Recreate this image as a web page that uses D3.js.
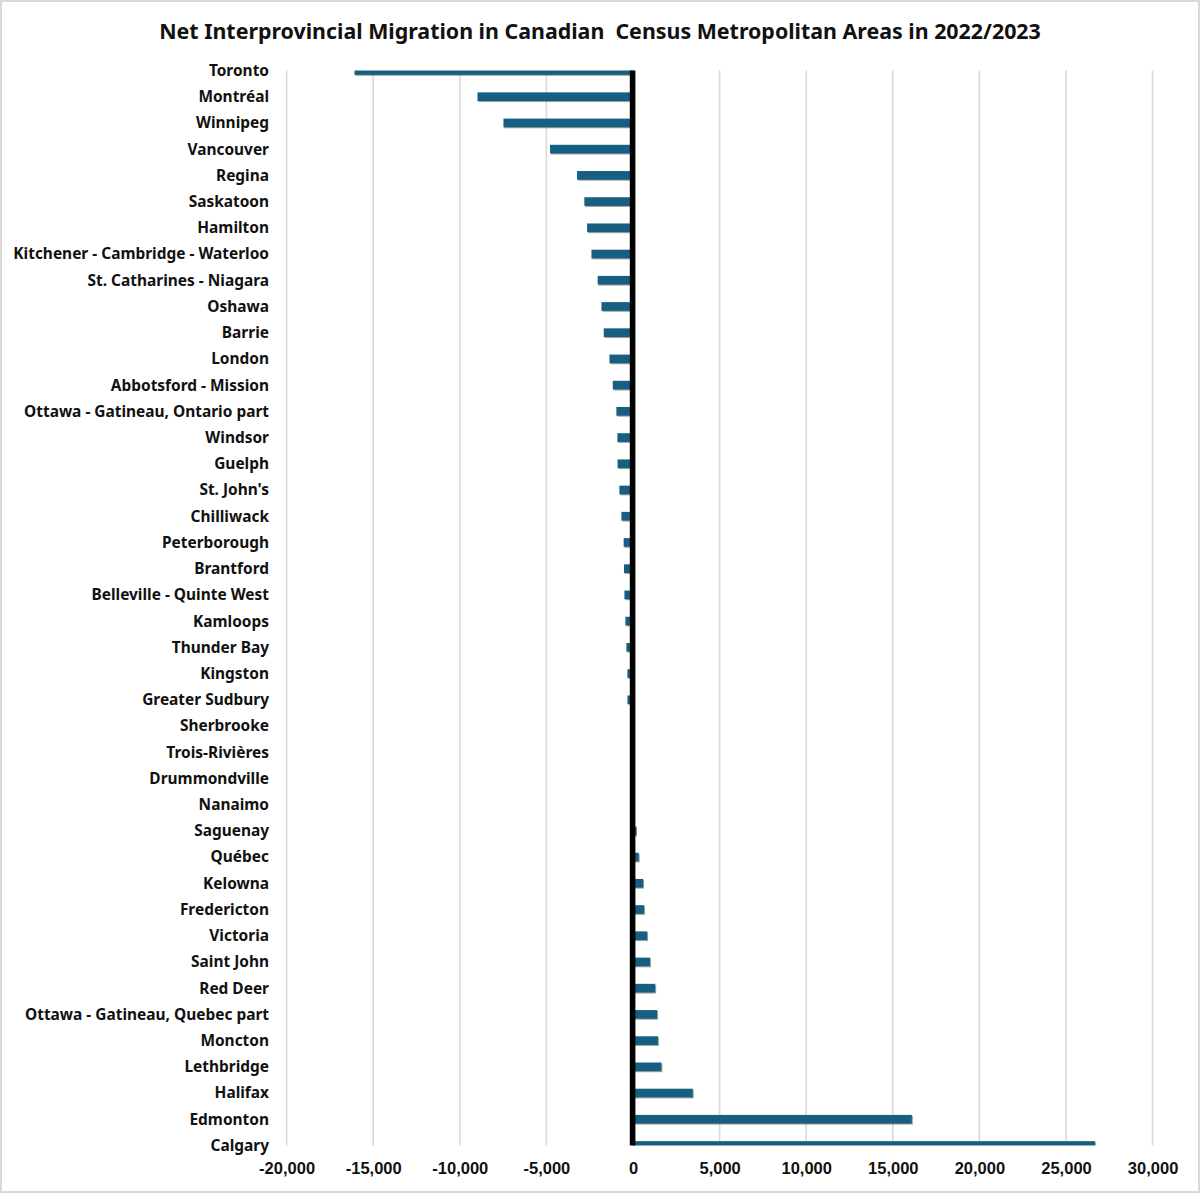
<!DOCTYPE html>
<html>
<head>
<meta charset="utf-8">
<script src="https://cdn.jsdelivr.net/npm/d3@7"></script>
<style>
  body { margin: 0; background: #fff; }
  svg { display: block; }
</style>
</head>
<body>
<div id="chart"></div>
<script>
var cmaNames = [
  "Toronto", "Montréal", "Winnipeg", "Vancouver", "Regina", "Saskatoon", "Hamilton",
  "Kitchener - Cambridge - Waterloo", "St. Catharines - Niagara", "Oshawa", "Barrie",
  "London", "Abbotsford - Mission", "Ottawa - Gatineau, Ontario part", "Windsor",
  "Guelph", "St. John's", "Chilliwack", "Peterborough", "Brantford",
  "Belleville - Quinte West", "Kamloops", "Thunder Bay", "Kingston", "Greater Sudbury",
  "Sherbrooke", "Trois-Rivières", "Drummondville", "Nanaimo", "Saguenay", "Québec",
  "Kelowna", "Fredericton", "Victoria", "Saint John", "Red Deer",
  "Ottawa - Gatineau, Quebec part", "Moncton", "Lethbridge", "Halifax", "Edmonton", "Calgary"
]

var netMigration = [
  -16080, -8980, -7480, -4790, -3230, -2810, -2650,
  -2400, -2040, -1820, -1690,
  -1360, -1170, -960, -900,
  -890, -785, -670, -540, -520,
  -495, -440, -380, -325, -320,
  -90, -60, -25, 20, 200, 330,
  590, 640, 820, 980, 1280,
  1390, 1440, 1640, 3450, 16100, 26670
]

var xTicks = [-20000, -15000, -10000, -5000, 0, 5000, 10000, 15000, 20000, 25000, 30000]

var titleText = "Net Interprovincial Migration in Canadian\u00a0 Census Metropolitan Areas in 2022/2023"

var data = cmaNames.map((name, i) => ({ name: name, value: netMigration[i] }))

var width = 1200
var height = 1193
var barColor = '#185f82'
var gridColor = '#d9d9d9'
var labelFont = '"Noto Sans", Roboto, sans-serif'

var svg = d3.select("#chart")
  .append("svg")
  .attr("width", width)
  .attr("height", height)

var defs = svg.append("defs")
var shadow = defs.append("filter")
  .attr("id", "barShadow")
  .attr("x", "-5%").attr("y", "-30%")
  .attr("width", "110%").attr("height", "160%")
shadow.append("feDropShadow")
  .attr("dx", 1).attr("dy", 1)
  .attr("stdDeviation", 0.6)
  .attr("flood-color", "#555")
  .attr("flood-opacity", 0.55)

defs.append("clipPath").attr("id", "plotClip")
  .append("rect")
  .attr("x", 0).attr("y", 70.5)
  .attr("width", width).attr("height", 1075)

// outer frame
svg.append("rect")
  .attr("x", 1).attr("y", 1)
  .attr("width", width - 2).attr("height", height - 2)
  .attr("fill", "#fff")
  .attr("stroke", gridColor)
  .attr("stroke-width", 2)

var xScale = d3.scaleLinear()
  .domain([-20000, 30000])
  .range([286.6, 1152.6])

var yScale = d3.scalePoint()
  .domain(cmaNames)
  .range([70.5, 1145.5])

var barHeight = 8.7

// gridlines
svg.append("g")
  .selectAll("line")
  .data(xTicks)
  .join("line")
  .attr("x1", d => xScale(d)).attr("x2", d => xScale(d))
  .attr("y1", 70.5).attr("y2", 1145.5)
  .attr("stroke", gridColor)
  .attr("stroke-width", 1.6)

// bars
svg.append("g")
  .attr("clip-path", "url(#plotClip)")
  .selectAll("rect")
  .data(data)
  .join("rect")
  .attr("x", d => xScale(Math.min(0, d.value)))
  .attr("y", d => yScale(d.name) - barHeight / 2)
  .attr("width", d => Math.abs(xScale(d.value) - xScale(0)))
  .attr("height", barHeight)
  .attr("fill", barColor)
  .attr("filter", "url(#barShadow)")

// zero line
svg.append("line")
  .attr("x1", xScale(0) - 0.4).attr("x2", xScale(0) - 0.4)
  .attr("y1", 70.5).attr("y2", 1145.5)
  .attr("stroke", "#000")
  .attr("stroke-width", 5.6)

// category labels
var labels = svg.append("g")
  .selectAll("text")
  .data(cmaNames)
  .join("text")
  .attr("x", 269)
  .attr("y", d => yScale(d))
  .attr("dy", "0.35em")
  .attr("text-anchor", "end")
  .attr("font-family", labelFont)
  .attr("font-weight", "bold")
  .attr("font-size", 15)
  .attr("fill", "#111")
  .text(d => d)

// fit the longest label to the width it has in the original (x 13..269)
var longest = labels.filter(d => d == "Kitchener - Cambridge - Waterloo").node()
var labelSize = 15 * 256 / longest.getComputedTextLength()
labels.attr("font-size", labelSize)

// x tick labels
var xAxis = d3.axisBottom(xScale)
  .tickValues(xTicks)
  .tickFormat(d3.format(","))
  .tickSize(0)
  .tickPadding(0)

var xAxisG = svg.append("g")
  .attr("transform", "translate(0,1162)")
  .call(xAxis)
xAxisG.select(".domain").remove()
xAxisG.selectAll("text")
  .attr("font-family", '"Liberation Sans", Arial, sans-serif')
  .attr("font-weight", "bold")
  .attr("font-size", 16.5)
  .attr("fill", "#111")
  .text(d => d3.format(",")(d).replace("−", "-"))

// title
var title = svg.append("text")
  .attr("x", 600)
  .attr("y", 39)
  .attr("text-anchor", "middle")
  .attr("font-family", labelFont)
  .attr("font-weight", "bold")
  .attr("font-size", 21)
  .attr("fill", "#111")
  .text(titleText)

// title runs from x 159 to 1041 in the original
title.attr("font-size", 21 * 882 / title.node().getComputedTextLength())
</script>
</body>
</html>
